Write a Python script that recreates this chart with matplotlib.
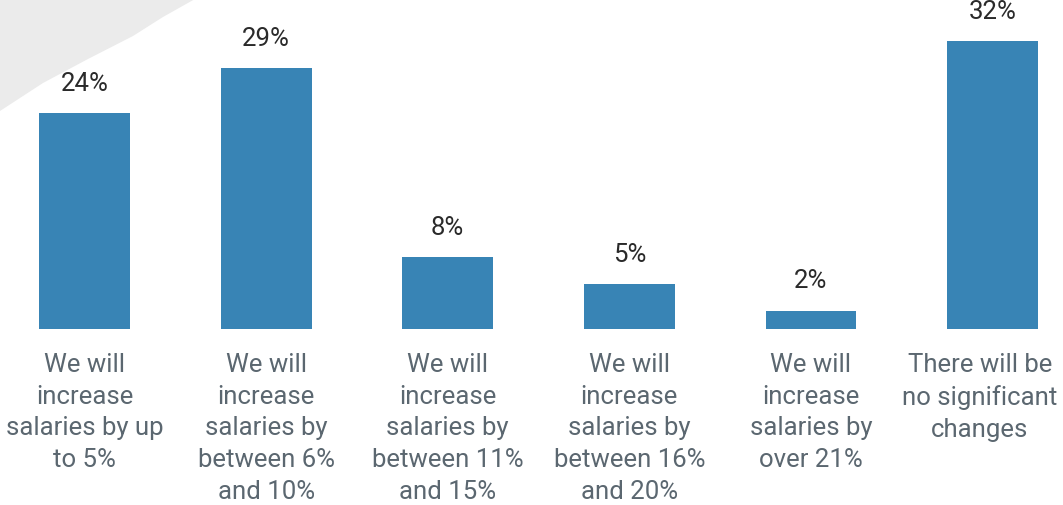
import matplotlib.pyplot as plt
from matplotlib.patches import Polygon

categories = [
    "We will\nincrease\nsalaries by up\nto 5%",
    "We will\nincrease\nsalaries by\nbetween 6%\nand 10%",
    "We will\nincrease\nsalaries by\nbetween 11%\nand 15%",
    "We will\nincrease\nsalaries by\nbetween 16%\nand 20%",
    "We will\nincrease\nsalaries by\nover 21%",
    "There will be\nno significant\nchanges",
]
values = [24, 29, 8, 5, 2, 32]

W, H = 1063, 506
fig = plt.figure(figsize=(W / 100, H / 100), dpi=100)
fig.patch.set_facecolor("white")

# light grey corner swoosh, top left
corner = [(0, 0), (195, 0), (163, 18), (133, 37), (88, 60), (43, 84), (0, 112)]
fig.patches.append(Polygon([(x / W, 1 - y / H) for x, y in corner], closed=True,
                           transform=fig.transFigure, facecolor="#ebebeb",
                           edgecolor="none", zorder=0))

bottom_px = 329.5
ax = fig.add_axes([0, 1 - bottom_px / H, 1, bottom_px / H])
ax.patch.set_alpha(0)

step = 181.6
x = list(range(len(values)))
ax.bar(x, values, width=0.5, color="#3884b5")
ax.set_xlim(-84.5 / step, (W - 84.5) / step)
ax.set_ylim(0, bottom_px / 8.98)

for xi, v in zip(x, values):
    ax.annotate(f"{v}%", (xi, v), xytext=(0, 13), textcoords="offset points",
                ha="center", va="bottom", fontsize=18.5, family="Roboto",
                color="#2a2a2a")

# category names under the bars; the last one is nudged left to stay on the canvas
for xi, name in zip(x, categories):
    dx = -9 if xi == len(categories) - 1 else 0
    ax.annotate(name, (xi, 0), xytext=(dx, -17), textcoords="offset points",
                ha="center", va="top", multialignment="center",
                fontsize=18.5, family="Roboto", color="#5b6770",
                linespacing=1.4, annotation_clip=False)

ax.set_xticks([])
ax.set_yticks([])
for s in ax.spines.values():
    s.set_visible(False)

fig.savefig("out.png", dpi=100, facecolor="white")
